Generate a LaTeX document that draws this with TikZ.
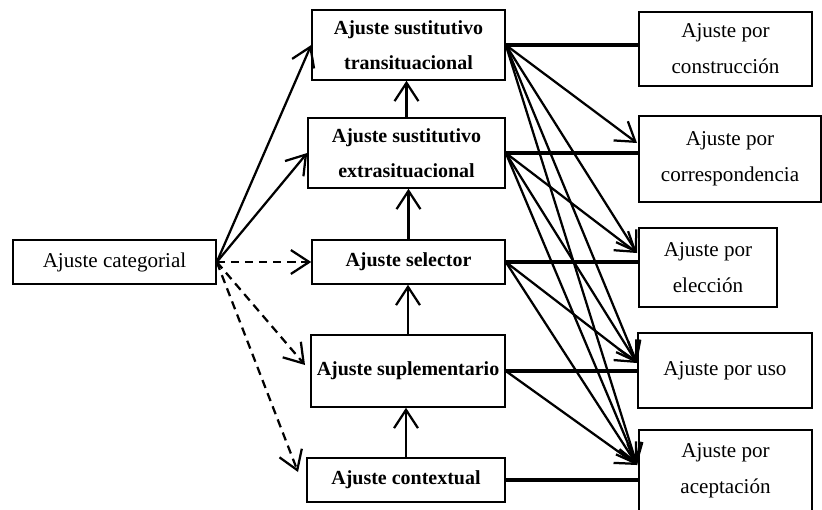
\documentclass[tikz,border=0pt]{standalone}
\usepackage{fontspec}
\setmainfont{Liberation Serif}
\usetikzlibrary{arrows.meta}
\begin{document}
\begin{tikzpicture}[x=0.025cm,y=-0.025cm,
	box/.style={draw,line width=1.1pt,inner sep=0pt,align=center,font={\fontsize{15}{25.5}\selectfont}},
	bbox/.style={box,font={\fontsize{14.2}{25}\selectfont\bfseries}},
	arr/.style={line width=1.6pt,-{Straight Barb[length=13pt,width=17pt]}},
	darr/.style={arr,dash pattern=on 6pt off 4pt},
	heavy/.style={line width=2.6pt}]
	\useasboundingbox (0,0) rectangle (822,509);
	
	\node[box,minimum width=5.075cm,minimum height=1.1cm] (cat) at (114.5,262) {Ajuste categorial};
	
	\node[bbox,minimum width=4.825cm,minimum height=1.75cm] (trans) at (408.5,45) {Ajuste sustitutivo\\transituacional};
	\node[bbox,minimum width=4.925cm,minimum height=1.75cm] (extra) at (406.5,153) {Ajuste sustitutivo\\extrasituacional};
	\node[bbox,minimum width=4.825cm,minimum height=1.1cm] (sel) at (408.5,262) {Ajuste selector};
	\node[bbox,minimum width=4.85cm,minimum height=1.8cm] (supl) at (408,371) {Ajuste suplementario};
	\node[bbox,minimum width=4.95cm,minimum height=1.1cm] (ctx) at (406,480) {Ajuste contextual};
	
	\node[box,minimum width=4.325cm,minimum height=1.85cm] (constr) at (725.5,49) {Ajuste por\\construcción};
	\node[box,minimum width=4.55cm,minimum height=2.15cm] (corr) at (730,159) {Ajuste por\\correspondencia};
	\node[box,minimum width=3.45cm,minimum height=1.975cm] (elec) at (708,267.5) {Ajuste por\\elección};
	\node[box,minimum width=4.35cm,minimum height=1.875cm] (uso) at (725,370.5) {Ajuste por uso};
	\node[box,minimum width=4.325cm,minimum height=2.05cm] (acep) at (725.5,471) {Ajuste por\\aceptación};
	
	% arrow ends
	\coordinate (dsup) at (305,365);
	\coordinate (dctx) at (298,472);
	\coordinate (tcorr) at (637,143);
	\coordinate (telec) at (637,253);
	\coordinate (tuso) at (637,363);
	\coordinate (tacep) at (637,465);
	
	\draw[arr] (cat.east) -- (trans.west);
	\draw[arr] (cat.east) -- (extra.west);
	\foreach \to in {sel.west,dsup,dctx}
	\draw[darr] (cat.east) -- (\to);
	
	\foreach \from/\to in {ctx/supl,supl/sel,sel/extra,extra/trans}
	\draw[arr] (\from.north) -- (\from.north |- \to.south);
	
	\foreach \from/\to in {trans/constr,extra/corr,sel/elec,supl/uso,ctx/acep}
	\draw[heavy] (\from.east) -- (\from.east -| \to.west);
	
	\foreach \from/\to in {trans/tcorr,trans/telec,trans/tuso,trans/tacep,extra/telec,extra/tuso,extra/tacep,sel/tuso,sel/tacep,supl/tacep}
	\draw[arr] (\from.east) -- (\to);
\end{tikzpicture}
\end{document}
